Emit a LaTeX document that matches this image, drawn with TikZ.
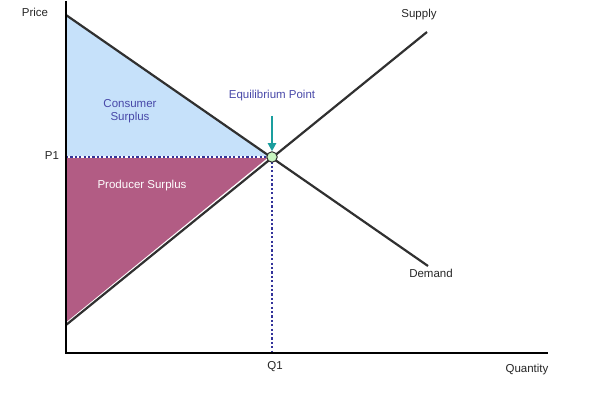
\documentclass[tikz,border=0pt]{standalone}
\usepackage{fontspec}
\setmainfont{Liberation Sans}
\usetikzlibrary{arrows.meta}
\definecolor{curve}{HTML}{303030}
\definecolor{dotblue}{HTML}{33339A}
\definecolor{cons}{HTML}{C6E1FA}
\definecolor{prod}{HTML}{B25C84}
\definecolor{lbl}{HTML}{4848A8}
\definecolor{teal}{HTML}{1A9E9E}
\definecolor{eqfill}{HTML}{C8F5C0}
\tikzset{
  txt/.style={font=\fontsize{11.5}{13.5}\selectfont, text=black!85, inner sep=0pt},
  axis/.style={line width=2pt, black},
  curveline/.style={line width=2.2pt, curve},
  dotline/.style={line width=2.4pt, dotblue, dash pattern=on 2.2pt off 2.2pt},
}
\begin{document}
\begin{tikzpicture}[x=1pt,y=-1pt]
\useasboundingbox (0,0) rectangle (600,403);
% coordinates
\coordinate (O) at (66,353);
\coordinate (Ytop) at (66,1);
\coordinate (Xend) at (548,353);
\coordinate (Dtop) at (66,15);
\coordinate (Dend) at (428,266);
\coordinate (Sbot) at (66,325);
\coordinate (Send) at (427,32);
\coordinate (Eq) at (272,157);
\coordinate (P1c) at (66,157);
\coordinate (Q1c) at (272,353);
% surpluses
\fill[cons] (Dtop) -- (Eq) -- (P1c) -- cycle;
\fill[prod] (P1c) -- (Eq) -- (Sbot) -- cycle;
% dotted lines
\draw[line width=2.4pt, white] (P1c) -- (Eq);
\draw[dotline] (P1c) -- (Eq);
\draw[dotline] (Eq) -- (Q1c);
% curves
\draw[white, line width=4pt] (Sbot) -- (Eq);
\draw[curveline] (Dtop) -- (Dend);
\draw[curveline] (Sbot) -- (Send);
% axes
\draw[axis] (Ytop) -- (O) -- (Xend);
% equilibrium
\node[circle, draw=curve, fill=eqfill, line width=1pt, minimum size=10.5pt, inner sep=0pt] (E) at (Eq) {};
% labels
\node[txt] (price) at (35,12) {Price};
\node[txt] (p1) at (52,156) {P1};
\node[txt] (q1) at (275,367) {Q1};
\node[txt] (qty) at (527,370) {Quantity};
\node[txt] (sup) at (419,15) {Supply};
\node[txt] (dem) at (431,273) {Demand};
\node[txt, text=lbl, align=center] (cs) at (130,111) {Consumer\\Surplus};
\node[txt, text=white] (ps) at (142,186) {Producer Surplus};
\node[txt, text=lbl] (eqp) at (272,96) {Equilibrium Point};
\coordinate (Atop) at (272,116);
\draw[teal, line width=2pt, -{Triangle[length=8pt,width=8pt]}] (Atop) -- (E.north);
\end{tikzpicture}
\end{document}
